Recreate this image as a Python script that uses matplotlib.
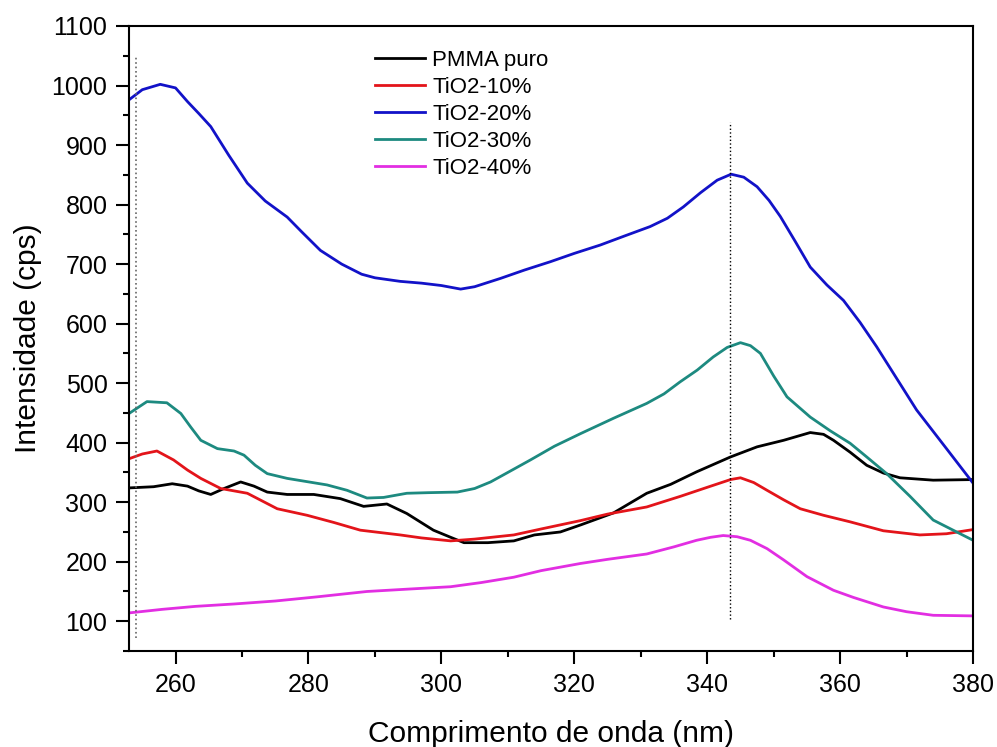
import matplotlib
matplotlib.use("Agg")
import matplotlib.pyplot as plt
from matplotlib.ticker import MultipleLocator

plt.rcParams['font.family'] = ['Liberation Sans', 'DejaVu Sans']

# --- dados ---
x_pmma = [253, 256.7, 259.5, 261.8, 263.5, 265.3, 267.3, 269.8, 271.8, 273.8, 276.8, 280.8, 284.8,
          288.3, 291.8, 294.8, 298.8, 301.4, 303.4, 307, 310.9, 314, 317.9, 321, 325.9, 330.9,
          334.5, 338.4, 343.5, 347.5, 351.5, 355.5, 357.5, 359, 361.5, 364, 366.5, 369, 374, 380]
y_pmma = [324, 326, 331, 327, 319, 313, 323, 334, 327, 317, 313, 313, 306,
          293, 297, 281, 253, 241, 232, 232, 235, 245, 250, 262, 282, 315,
          330, 351, 376, 393, 404, 417, 414, 404, 384, 362, 349, 341, 337, 338]

x_10 = [253, 255, 257.2, 259.7, 261.8, 263.8, 266.8, 270.8, 275.3, 279.8, 283.8, 287.8, 293.8,
        297, 301.4, 305, 310.9, 315, 320.9, 325, 330.9, 336, 340, 343.5, 345, 347, 349, 351.5,
        354, 357.5, 361.5, 366.5, 372, 376, 380]
y_10 = [373, 381, 386, 371, 354, 340, 323, 315, 289, 278, 266, 253, 245,
        240, 235, 238, 245, 255, 269, 280, 292, 310, 325, 338, 341, 333, 320, 304,
        289, 278, 267, 252, 245, 247, 254]

x_20 = [253, 255, 257.7, 260, 261.8, 263.5, 265.3, 268, 270.8, 273.5, 276.8, 279, 281.8, 285,
        288, 290, 293.8, 297, 300, 302.9, 305, 308.9, 312.5, 316.4, 320, 323.9, 327.5, 331.4,
        334, 336.4, 339, 341.5, 343.6, 345.5, 347.5, 349.3, 351, 353.3, 355.5, 358, 360.5,
        363, 365.5, 368.5, 371.5, 376, 380]
y_20 = [976, 993, 1002, 996, 973, 953, 931, 883, 836, 806, 779, 754, 723, 700,
        683, 677, 671, 668, 664, 658, 662, 676, 690, 704, 718, 732, 747, 763,
        777, 796, 820, 841, 851, 846, 830, 807, 780, 737, 695, 665, 639,
        602, 561, 508, 455, 390, 332]

x_30 = [253, 255.7, 258.7, 260.8, 262.3, 263.8, 266.3, 268.8, 270.3, 272, 273.8, 276.8, 282.8,
        285.8, 288.8, 291.3, 294.8, 298, 302.4, 305, 307.4, 310, 313.4, 317, 320.9, 325.9,
        330.9, 333.5, 335.9, 338.5, 340.9, 343, 345, 346.5, 348, 350, 352, 355.5, 358.5,
        361.5, 364, 367, 370.5, 374, 380]
y_30 = [449, 469, 467, 449, 426, 404, 390, 386, 379, 362, 348, 340, 329,
        320, 307, 308, 315, 316, 317, 323, 334, 350, 371, 394, 415, 441,
        466, 482, 502, 522, 544, 560, 568, 563, 550, 512, 477, 443, 420,
        399, 376, 348, 310, 270, 236]

x_40 = [253, 258, 263, 268.8, 275, 281.3, 288.8, 295, 301.4, 306, 310.9, 315, 320.9, 325,
        330.9, 335, 338.4, 340.5, 342.4, 344.5, 346.5, 349, 351.5, 355, 359, 362, 366.5, 370,
        374, 380]
y_40 = [114, 120, 125, 129, 134, 141, 150, 154, 158, 165, 174, 185, 197, 204,
        213, 225, 236, 241, 244, 242, 236, 222, 203, 175, 152, 140, 124, 116,
        110, 109]

series = [
    (x_pmma, y_pmma, 'black', 'PMMA puro'),
    (x_10, y_10, '#e3141a', 'TiO2-10%'),
    (x_20, y_20, '#1212c8', 'TiO2-20%'),
    (x_30, y_30, '#1d8a80', 'TiO2-30%'),
    (x_40, y_40, '#e22ee2', 'TiO2-40%'),
]

# linhas pontilhadas de referência
ref_x = [254, 343.5]
ref_ymin = [72, 103]
ref_ymax = [1048, 939]

# --- figura ---
fig = plt.figure(figsize=(9.97, 7.47), dpi=100)
ax = fig.add_axes([0.1294, 0.1285, 0.8466, 0.8367])

for xs, ys, cor, nome in series:
    ax.plot(xs, ys, color=cor, lw=2.0, label=nome, solid_joinstyle='round')

ax.vlines(ref_x[0], ref_ymin[0], ref_ymax[0], colors='#666666', linestyles=':', lw=1.2)
ax.vlines(ref_x[1], ref_ymin[1], ref_ymax[1], colors='black', linestyles=':', lw=1.0)

ax.set_xlim(253, 380)
ax.set_ylim(50, 1100)
ax.xaxis.set_major_locator(MultipleLocator(20))
ax.xaxis.set_minor_locator(MultipleLocator(10))
ax.yaxis.set_major_locator(MultipleLocator(100))
ax.yaxis.set_minor_locator(MultipleLocator(50))
ax.tick_params(which='both', direction='out', top=False, right=False, width=1.5, labelsize=18)
ax.tick_params(which='major', length=9.5, pad=6)
ax.tick_params(which='minor', length=4.5)
for s in ax.spines.values():
    s.set_linewidth(1.5)

ax.set_xlabel('Comprimento de onda (nm)', fontsize=21.5, labelpad=17)
ax.set_ylabel('Intensidade (cps)', fontsize=21.5, labelpad=7)

ax.legend(loc='upper left', bbox_to_anchor=(0.2915, 0.962), frameon=False, fontsize=16,
          handlelength=2.25, handletextpad=0.33, labelspacing=0.27, borderpad=0, borderaxespad=0)

fig.savefig('out.png', dpi=100)
